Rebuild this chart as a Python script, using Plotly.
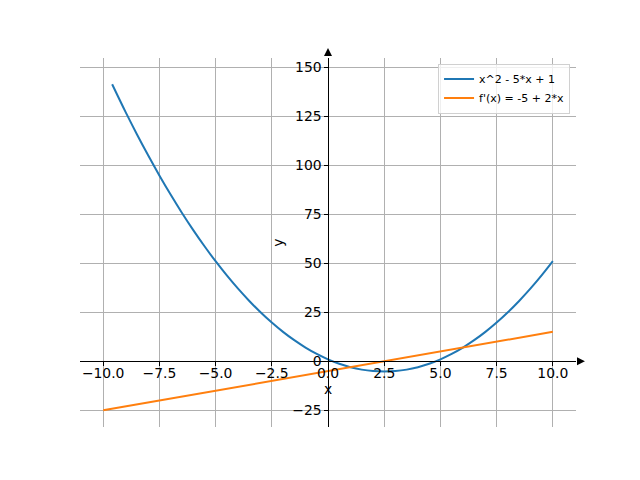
import plotly.graph_objects as go

# curve values
parab_x = [-9.6, -9.0, -8.5, -8.0, -7.5, -7.0, -6.5, -6.0, -5.5, -5.0, -4.5, -4.0,
           -3.5, -3.0, -2.5, -2.0, -1.5, -1.0, -0.5, 0.0, 0.5, 1.0, 1.5, 2.0, 2.5,
           3.0, 3.5, 4.0, 4.5, 5.0, 5.5, 6.0, 6.5, 7.0, 7.5, 8.0, 8.5, 9.0, 9.5, 10.0]
parab_y = [141.2, 127.0, 115.75, 105.0, 94.75, 85.0, 75.75, 67.0, 58.75, 51.0, 43.75, 37.0,
           30.75, 25.0, 19.75, 15.0, 10.75, 7.0, 3.75, 1.0, -1.25, -3.0, -4.25, -5.0, -5.25,
           -5.0, -4.25, -3.0, -1.25, 1.0, 3.75, 7.0, 10.75, 15.0, 19.75, 25.0, 30.75, 37.0, 43.75, 51.0]
deriv_x = [-10.0, 10.0]
deriv_y = [-25.0, 15.0]

x_ticks = [-10, -7.5, -5, -2.5, 0, 2.5, 5, 7.5, 10]
y_ticks = [-25, 0, 25, 50, 75, 100, 125, 150]

x_range = [-11.03, 11.03]
y_range = [-33.5, 154.6]
x_zero = (0 - x_range[0]) / (x_range[1] - x_range[0])
y_zero = (0 - y_range[0]) / (y_range[1] - y_range[0])

fig = go.Figure()
fig.add_trace(go.Scatter(x=parab_x, y=parab_y, mode='lines', name='x^2 - 5*x + 1',
                         line=dict(color='#1f77b4', width=2, shape='spline')))
fig.add_trace(go.Scatter(x=deriv_x, y=deriv_y, mode='lines', name="f'(x) = -5 + 2*x",
                         line=dict(color='#ff7f0e', width=2)))

axis_style = dict(showgrid=True, gridcolor='#b0b0b0', gridwidth=1.1, zeroline=False,
                  showline=True, linecolor='black', linewidth=1.2,
                  ticks='outside', ticklen=3.5, tickwidth=1.1, tickcolor='black',
                  tickfont=dict(size=13.9, color='black'), anchor='free', automargin=False)

# page body adds 8px offset, so margins are shifted to keep the plot area in place
fig.update_layout(
    width=640, height=480,
    margin=dict(l=72, r=72, t=49.6, b=60.8),
    paper_bgcolor='white', plot_bgcolor='white',
    font=dict(family='DejaVu Sans', color='black'),
    xaxis=dict(range=x_range, tickvals=x_ticks, tickformat='.1f', position=y_zero,
               ticklabelstandoff=-5,
               title=dict(text='x', font=dict(size=13.9), standoff=0), **axis_style),
    yaxis=dict(range=y_range, tickvals=y_ticks, position=x_zero,
               title=dict(text='y', font=dict(size=13.9), standoff=4), **axis_style),
    legend=dict(x=0.988, y=0.985, xanchor='right', yanchor='top',
                bgcolor='rgba(255,255,255,0.8)', bordercolor='#d0d0d0', borderwidth=1,
                font=dict(size=11), tracegroupgap=0, itemwidth=30),
    showlegend=True,
)

# arrow heads at the ends of the two spines
dx = 4 / 496
dy = 4 / 369.6
fig.add_shape(type='path', xref='paper', yref='paper', fillcolor='black', line=dict(width=0),
              path=f'M {x_zero - dx} 1.0057 L {x_zero + dx} 1.0057 L {x_zero} 1.0273 Z')
fig.add_shape(type='path', xref='paper', yref='paper', fillcolor='black', line=dict(width=0),
              path=f'M 1.002 {y_zero - dy} L 1.002 {y_zero + dy} L 1.018 {y_zero} Z')

fig.write_html("out.html")
